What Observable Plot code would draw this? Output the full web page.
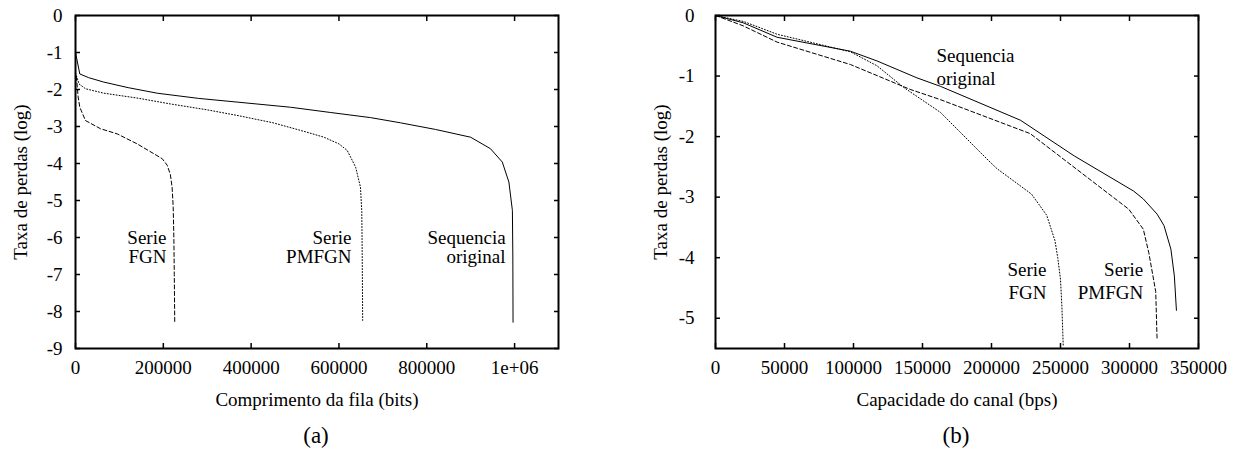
<!DOCTYPE html>
<html>
<head>
<meta charset="utf-8">
<script src="https://cdn.jsdelivr.net/npm/d3@7"></script>
<script src="https://cdn.jsdelivr.net/npm/@observablehq/plot@0.6"></script>
<style>
  body { margin: 0; background: #fff; font-family: "Liberation Serif", "Times New Roman", serif; }
  #wrap { position: relative; width: 1238px; height: 455px; overflow: hidden; }
  .panel { position: absolute; top: 0; }
  .panel svg, .panel svg text { font-family: "Liberation Serif", "Times New Roman", serif !important; }
  .cap { position: absolute; top: 421px; width: 100px; margin-left: -50px; text-align: center; font-size: 23px; line-height: 30px; color: #000; }
</style>
</head>
<body>
<div id="wrap"></div>
<script>
// ---------- Panel (a): Comprimento da fila (bits) vs Taxa de perdas (log) ----------
const aXTicks = [0, 200000, 400000, 600000, 800000, 1000000];
const aXTickLabels = ["0", "200000", "400000", "600000", "800000", "1e+06"];
const aYTicks = [0, -1, -2, -3, -4, -5, -6, -7, -8, -9];
const aYTickLabels = ["0", "-1", "-2", "-3", "-4", "-5", "-6", "-7", "-8", "-9"];

// Sequencia original (solid)
const aOrigX = [0, 9800, 30000, 64500, 120000, 186000, 280000, 368000, 490000, 580000, 672000, 740000, 820000, 900000, 945000, 972000, 987000, 995000, 996000, 996500];
const aOrigY = [-1.0, -1.58, -1.68, -1.80, -1.95, -2.10, -2.24, -2.34, -2.48, -2.62, -2.76, -2.90, -3.08, -3.29, -3.60, -3.96, -4.50, -5.27, -6.50, -8.29];
// Serie PMFGN (dotted)
const aPmX = [0, 8000, 22800, 64500, 140000, 216000, 300000, 368000, 450000, 520000, 566000, 600000, 619000, 638000, 649000, 652000, 653000, 654000];
const aPmY = [-1.55, -1.85, -1.98, -2.10, -2.23, -2.39, -2.55, -2.70, -2.90, -3.13, -3.29, -3.47, -3.65, -4.10, -4.64, -5.30, -6.50, -8.24];
// Serie FGN (dashed)
const aFgnX = [2000, 6000, 9800, 22800, 57000, 95000, 140500, 197500, 209000, 216000, 220000, 222500, 224000, 225000, 226000];
const aFgnY = [-1.65, -2.20, -2.48, -2.84, -3.06, -3.20, -3.47, -3.87, -4.05, -4.30, -4.64, -5.18, -6.00, -7.00, -8.29];

const aLabelText = ["Serie\nFGN", "Serie\nPMFGN", "Sequencia\noriginal"];
const aLabelX = [207000, 628700, 979500];
const aLabelY = [-5.82, -5.82, -5.82];

// ---------- Panel (b): Capacidade do canal (bps) vs Taxa de perdas (log) ----------
const bXTicks = [0, 50000, 100000, 150000, 200000, 250000, 300000, 350000];
const bXTickLabels = ["0", "50000", "100000", "150000", "200000", "250000", "300000", "350000"];
const bYTicks = [0, -1, -2, -3, -4, -5];
const bYTickLabels = ["0", "-1", "-2", "-3", "-4", "-5"];

// Sequencia original (solid)
const bOrigX = [0, 20000, 44700, 97800, 117000, 146000, 163000, 221000, 260000, 303000, 310000, 320000, 325000, 330000, 332500, 334000];
const bOrigY = [0, -0.12, -0.36, -0.59, -0.75, -1.03, -1.17, -1.73, -2.32, -2.90, -3.03, -3.28, -3.47, -3.86, -4.30, -4.87];
// Serie PMFGN (dashed)
const bPmX = [0, 20000, 44700, 97800, 141000, 163000, 214000, 228000, 299500, 310000, 314000, 319000, 320000];
const bPmY = [0, -0.17, -0.44, -0.81, -1.22, -1.39, -1.83, -1.95, -3.20, -3.53, -3.92, -4.56, -5.36];
// Serie FGN (dotted)
const bFgnX = [0, 20500, 44700, 97800, 117000, 136500, 163000, 198000, 204000, 229000, 240000, 246000, 248000, 250000, 251000, 252000];
const bFgnY = [0, -0.10, -0.31, -0.60, -0.83, -1.19, -1.60, -2.40, -2.53, -2.95, -3.30, -3.72, -4.00, -4.36, -4.80, -5.47];

const bLabelText = ["Sequencia\noriginal", "Serie\nFGN", "Serie\nPMFGN"];
const bLabelX = [160100, 239900, 309900];
const bLabelY = [-0.50, -4.04, -4.04];
const bLabelAnchor = ["start", "end", "end"];

// ---------- helpers ----------
const zipXY = (xs, ys) => xs.map((x, i) => ({x, y: ys[i]}));
const FONT = '"Liberation Serif", "Times New Roman", serif';
const DASHED = "4,2.5";
const DOTTED = "1,2";

function makePanel(o) {
  return Plot.plot({
    width: o.width,
    height: 415,
    marginTop: 15,
    marginBottom: 67,
    marginLeft: o.marginLeft,
    marginRight: o.marginRight,
    style: 'font-family: "Liberation Serif", "Times New Roman", serif; font-size: 19px; color: #000; background: #fff; overflow: visible;',
    x: {domain: o.xDomain},
    y: {domain: o.yDomain},
    marks: [
      Plot.axisX(o.xTicks, {anchor: "bottom", tickSize: -5, tickPadding: 17, strokeWidth: 1.5, fontFamily: FONT, fontSize: 19,
        tickFormat: (d, i) => o.xTickLabels[i], label: o.xLabel, labelAnchor: "center", labelArrow: "none", labelOffset: 57}),
      Plot.axisX(o.xTicks, {anchor: "top", tickSize: -5, strokeWidth: 1.5, tickFormat: () => "", label: null}),
      Plot.axisY(o.yTicks, {anchor: "left", tickSize: -5, tickPadding: o.yPad, strokeWidth: 1.5, fontFamily: FONT, fontSize: 19,
        tickFormat: (d, i) => o.yTickLabels[i], label: "Taxa de perdas (log)", labelAnchor: "center", labelArrow: "none", labelOffset: o.yLabelOffset}),
      Plot.axisY(o.yTicks, {anchor: "right", tickSize: -5, strokeWidth: 1.5, tickFormat: () => "", label: null}),
      ...o.series.map(s => Plot.line(s.data, {x: "x", y: "y", stroke: "#000", strokeWidth: 1, strokeDasharray: s.dash})),
      ...o.labels.map(l => Plot.text(l.data, {x: "x", y: "y", text: "text", textAnchor: l.anchor, lineAnchor: "top", lineHeight: o.lineHeight, fill: "#000", fontSize: 19, fontFamily: FONT})),
      Plot.frame({stroke: "#000", strokeWidth: 2})
    ]
  });
}

const aLabels = aLabelText.map((t, i) => ({text: t, x: aLabelX[i], y: aLabelY[i]}));
const bLabels = bLabelText.map((t, i) => ({text: t, x: bLabelX[i], y: bLabelY[i], anchor: bLabelAnchor[i]}));

const plotA = makePanel({
  width: 619, marginLeft: 75, marginRight: 61,
  xDomain: [0, 1100000], yDomain: [-9, 0],
  xTicks: aXTicks, xTickLabels: aXTickLabels, yTicks: aYTicks, yTickLabels: aYTickLabels,
  xLabel: "Comprimento da fila (bits)",
  yPad: 18, yLabelOffset: 62,
  series: [
    {data: zipXY(aOrigX, aOrigY), dash: null},
    {data: zipXY(aPmX, aPmY), dash: DOTTED},
    {data: zipXY(aFgnX, aFgnY), dash: DASHED}
  ],
  labels: [{data: aLabels, anchor: "end"}],
  lineHeight: 1.0
});

const plotB = makePanel({
  width: 619, marginLeft: 96, marginRight: 40,
  xDomain: [0, 350000], yDomain: [-5.5, 0],
  xTicks: bXTicks, xTickLabels: bXTickLabels, yTicks: bYTicks, yTickLabels: bYTickLabels,
  xLabel: "Capacidade do canal (bps)",
  yPad: 26, yLabelOffset: 62,
  series: [
    {data: zipXY(bOrigX, bOrigY), dash: null},
    {data: zipXY(bPmX, bPmY), dash: DASHED},
    {data: zipXY(bFgnX, bFgnY), dash: DOTTED}
  ],
  labels: [
    {data: bLabels.filter(d => d.anchor === "start"), anchor: "start"},
    {data: bLabels.filter(d => d.anchor === "end"), anchor: "end"}
  ],
  lineHeight: 1.2
});

const wrap = document.getElementById("wrap");
const pa = document.createElement("div"); pa.className = "panel"; pa.style.left = "0px"; pa.appendChild(plotA);
const pb = document.createElement("div"); pb.className = "panel"; pb.style.left = "619px"; pb.appendChild(plotB);
wrap.appendChild(pa); wrap.appendChild(pb);

const capA = document.createElement("div"); capA.className = "cap"; capA.style.left = "316px"; capA.textContent = "(a)";
const capB = document.createElement("div"); capB.className = "cap"; capB.style.left = "956px"; capB.textContent = "(b)";
wrap.appendChild(capA); wrap.appendChild(capB);
</script>
</body>
</html>
